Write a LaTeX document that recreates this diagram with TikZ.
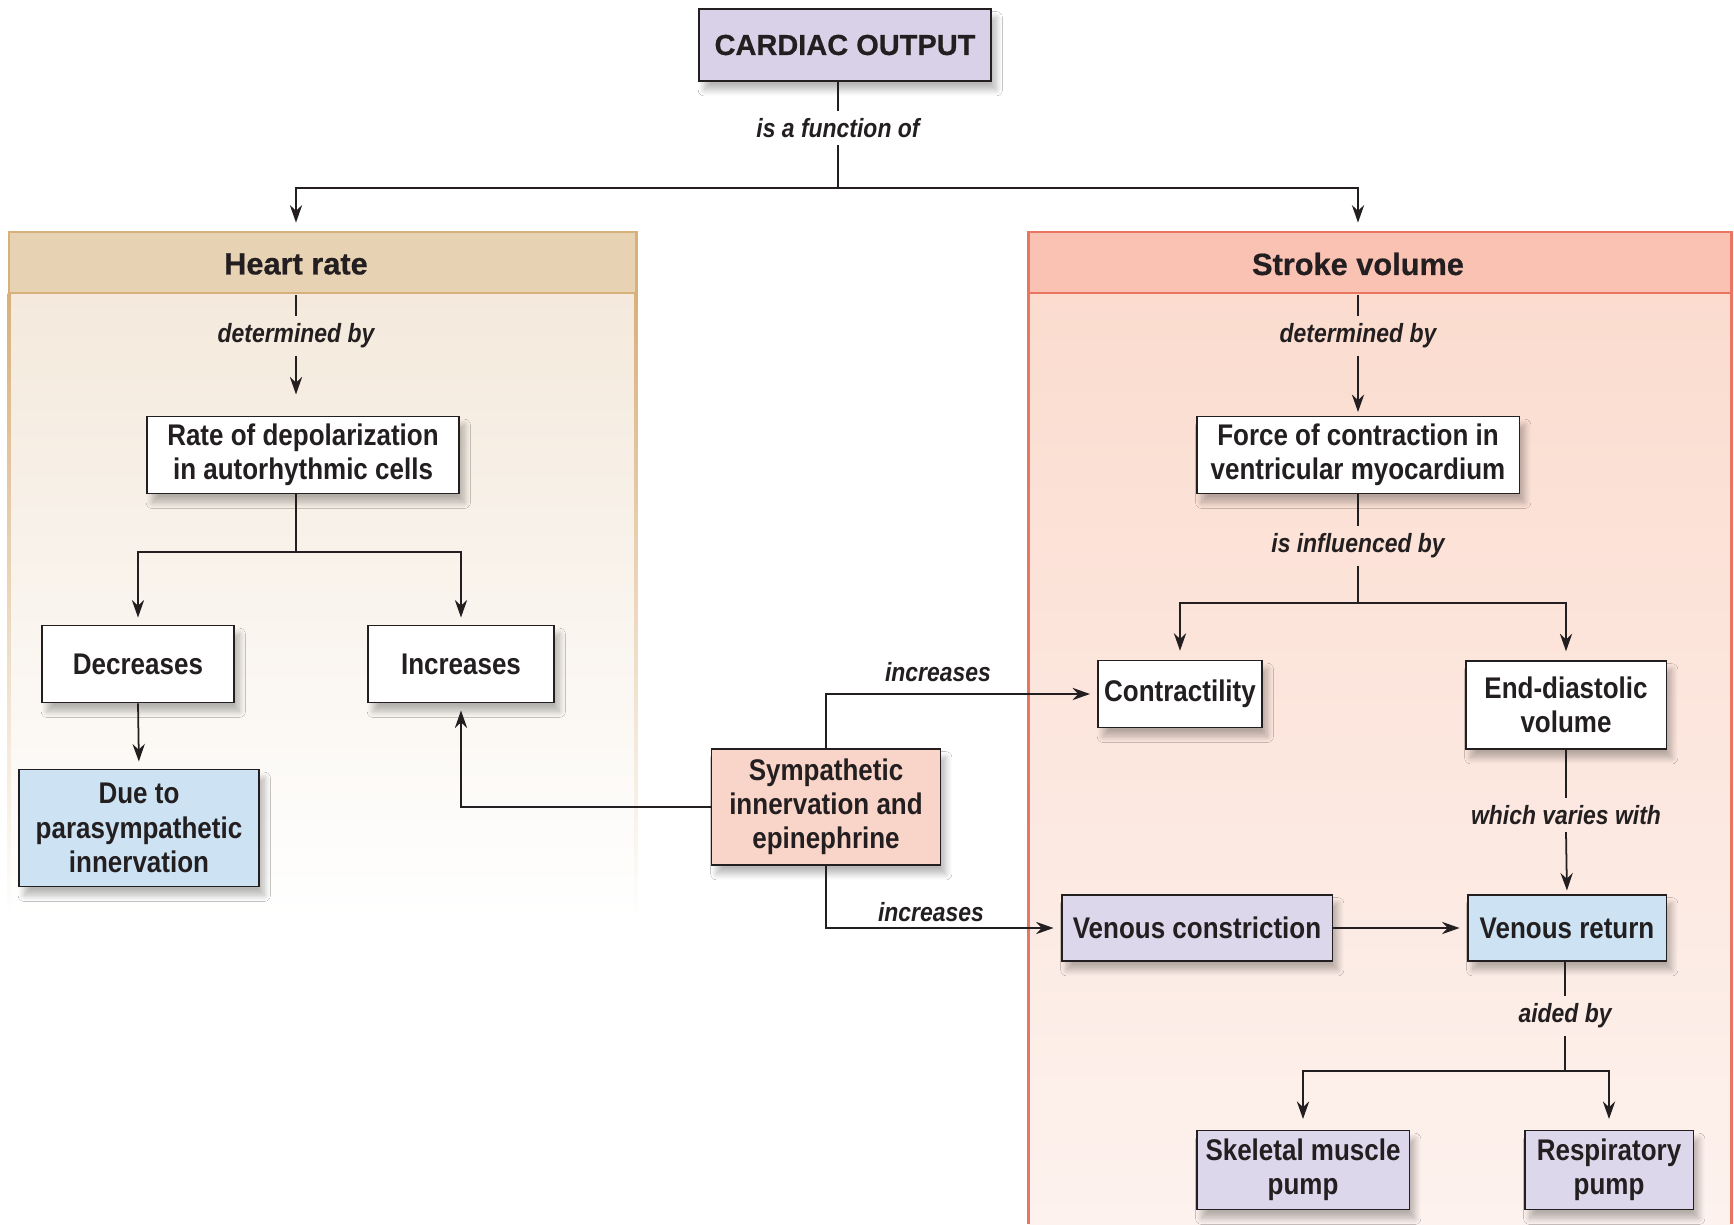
\documentclass[tikz,border=0pt]{standalone}
\usepackage{fontspec}
\setmainfont{Liberation Sans}
\newfontfamily\narrowfont{Liberation Sans}[FakeStretch=0.87]
\newfontfamily\heavyfont{Liberation Sans}[UprightFont={* Bold},FakeBold=0.6]
\usetikzlibrary{arrows.meta,shadows.blur}

\definecolor{ink}{HTML}{231F20}
\definecolor{colav}{HTML}{D8D1E8}
\definecolor{boxlav}{HTML}{DDD7EB}
\definecolor{coblue}{HTML}{CDE3F4}
\definecolor{copink}{HTML}{F9D4C9}
\definecolor{hrline}{HTML}{D8B07B}
\definecolor{hrhead}{HTML}{E7D2B4}
\definecolor{hrbody}{HTML}{F4E9DC}
\definecolor{svline}{HTML}{EA7560}
\definecolor{svhead}{HTML}{F9C2B3}
\definecolor{svbody}{HTML}{FBDCCF}
\definecolor{svbodylow}{HTML}{FDF2EE}

\begin{document}
\begin{tikzpicture}[x=0.02cm,y=-0.02cm,
  >={Stealth[length=10pt,width=7pt]},
  box/.style={draw=ink,line width=1.1pt,fill=white,align=center,inner sep=2pt,text=ink,
    font=\narrowfont\bfseries\fontsize{17}{19.5}\selectfont,
    blur shadow={shadow xshift=3pt,shadow yshift=-5pt,shadow blur radius=3.5pt,shadow blur steps=10,shadow opacity=28}},
  head/.style={font=\heavyfont\fontsize{17.5}{21}\selectfont,text=ink,minimum height=1.22cm,inner sep=0pt},
  lbl/.style={font=\narrowfont\bfseries\itshape\fontsize{15}{18}\selectfont,text=ink,inner sep=4pt},
  link/.style={draw=ink,line width=1pt},
  tip/.style={->,shorten >=4pt}]
 \useasboundingbox (0,0) rectangle (1734,1224);
 \fill[white] (0,0) rectangle (1734,1224);

 % heart rate panel
 \fill[top color=hrbody,middle color=hrbody!75,bottom color=white] (9,293) rectangle (636,918);
 \shade[top color=hrline,bottom color=white] (7.5,293) rectangle (10.5,918);
 \shade[top color=hrline,bottom color=white] (634.5,293) rectangle (637.5,918);
 \draw[hrline,line width=1.7pt,fill=hrhead] (9,232) rectangle (636,293);

 % stroke volume panel
 \fill[top color=svbody,bottom color=svbodylow] (1028,293) rectangle (1731,1224);
 \draw[svline,line width=1.7pt] (1028,1224) -- (1028,293) (1731,293) -- (1731,1224);
 \draw[svline,line width=1.7pt,fill=svhead] (1028,232) rectangle (1731,293);

 \node[box,fill=colav,minimum width=5.84cm,minimum height=1.44cm,font=\heavyfont\fontsize{16.5}{20}\selectfont] (co) at (845,45) {CARDIAC OUTPUT};
 \node[lbl] (func) at (838,128) {is a function of};
 \coordinate (split) at (838,188);
 \node[head] (hr) at (296,264) {Heart rate};
 \node[head] (sv) at (1358,264) {Stroke volume};

 \node[lbl] (hrdet) at (296,336) {determined by};
 \node[box,minimum width=6.24cm,minimum height=1.54cm] (rate) at (303,455) {Rate of depolarization\\in autorhythmic cells};
 \coordinate (ratesplit) at (296,552);
 \node[box,minimum width=3.84cm,minimum height=1.54cm] (dec) at (138,664) {Decreases};
 \node[box,minimum width=3.72cm,minimum height=1.54cm] (inc) at (461,664) {Increases};
 \node[box,fill=coblue,minimum width=4.8cm,minimum height=2.34cm] (para) at (139,828) {Due to\\parasympathetic\\innervation};

 \node[box,fill=copink,minimum width=4.58cm,minimum height=2.32cm] (symp) at (826,807) {Sympathetic\\innervation and\\epinephrine};
 \node[lbl] (incup) at (938,672) {increases};
 \node[lbl] (incdown) at (931,912) {increases};

 \node[lbl] (svdet) at (1358,336) {determined by};
 \node[box,minimum width=6.46cm,minimum height=1.54cm] (force) at (1358,455) {Force of contraction in\\ventricular myocardium};
 \node[lbl] (infl) at (1358,546) {is influenced by};
 \coordinate (forcesplit) at (1358,603);
 \node[box,minimum width=3.28cm,minimum height=1.34cm] (contr) at (1180,694) {Contractility};
 \node[box,minimum width=4.02cm,minimum height=1.76cm] (edv) at (1566,705) {End-diastolic\\volume};
 \node[lbl] (varies) at (1566,815) {which varies with};
 \node[box,fill=boxlav,minimum width=5.42cm,minimum height=1.32cm] (vc) at (1197,928) {Venous constriction};
 \node[box,fill=coblue,minimum width=3.98cm,minimum height=1.32cm] (vr) at (1567,928) {Venous return};
 \node[lbl] (aided) at (1565,1016) {aided by};
 \coordinate (vrsplit) at (1565,1071);
 \node[box,fill=boxlav,minimum width=4.26cm,minimum height=1.58cm] (skm) at (1303,1170) {Skeletal muscle\\pump};
 \node[box,fill=boxlav,minimum width=3.38cm,minimum height=1.58cm] (resp) at (1609,1170) {Respiratory\\pump};

 \draw[link] (co.south -| func) -- (func.north);
 \draw[link] (func.south) -- (split);
 \draw[link,tip,shorten >=6pt] (split) -| (hr.north);
 \draw[link,tip,shorten >=6pt] (split) -| (sv.north);

 \draw[link] (hr.south) -- (hrdet.north);
 \draw[link,tip,shorten >=12pt] (hrdet.south) -- (rate.north -| hrdet.south);
 \draw[link] (rate.south -| ratesplit) -- (ratesplit);
 \draw[link,tip] (ratesplit) -| (dec.north);
 \draw[link,tip] (ratesplit) -| (inc.north);
 \draw[link,tip] (dec.south) -- (para.north);

 \draw[link,tip] (symp.west) -| (inc.south);
 \draw[link,tip] (symp.north) |- (contr.west);
 \draw[link,tip] (symp.south) |- (vc.west);

 \draw[link] (sv.south) -- (svdet.north);
 \draw[link,tip,shorten >=2pt] (svdet.south) -- (force.north);
 \draw[link] (force.south) -- (infl.north);
 \draw[link] (infl.south) -- (forcesplit);
 \draw[link,tip,shorten >=5pt] (forcesplit) -| (contr.north);
 \draw[link,tip,shorten >=5pt] (forcesplit) -| (edv.north);
 \draw[link] (edv.south) -- (varies.north);
 \draw[link,tip,shorten >=2pt] (varies.south) -- (vr.north);
 \draw[link,tip] (vc.east) -- (vr.west);
 \draw[link] (vr.south -| aided) -- (aided.north);
 \draw[link] (aided.south) -- (vrsplit);
 \draw[link,tip,shorten >=6pt] (vrsplit) -| (skm.north);
 \draw[link,tip,shorten >=6pt] (vrsplit) -| (resp.north);
\end{tikzpicture}
\end{document}
